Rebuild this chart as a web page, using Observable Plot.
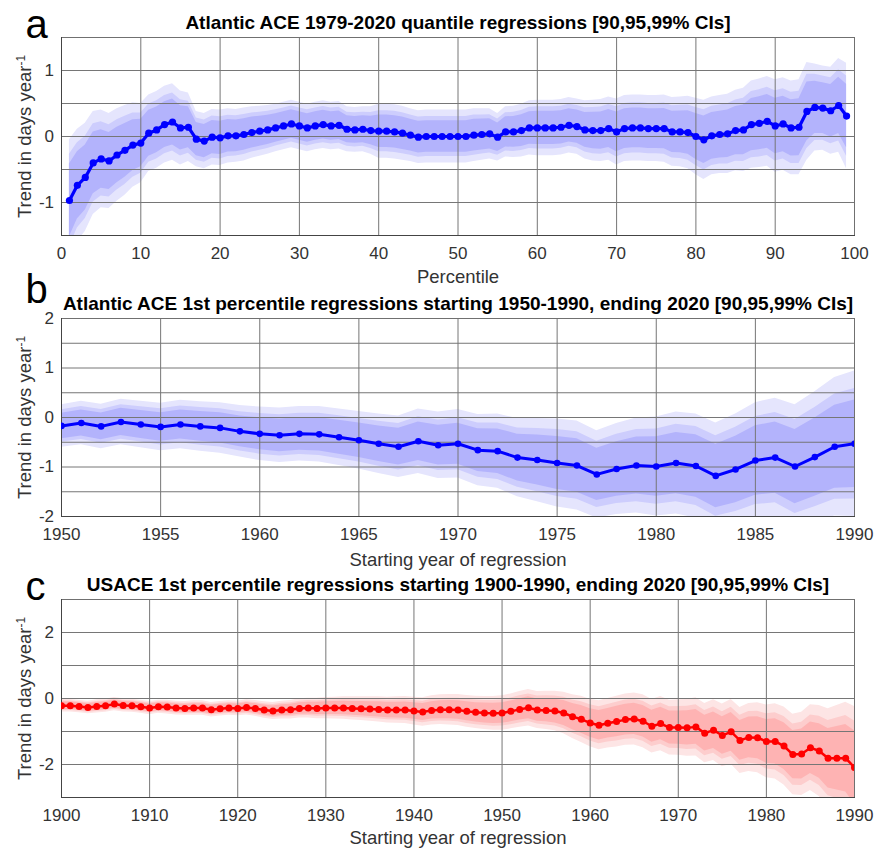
<!DOCTYPE html>
<html><head><meta charset="utf-8">
<script src="https://cdn.jsdelivr.net/npm/d3@7"></script>
<script src="https://cdn.jsdelivr.net/npm/@observablehq/plot@0.6"></script>
<style>
html,body{margin:0;padding:0;background:#fff;}
#wrap{position:relative;width:874px;height:848px;overflow:hidden;background:#fff;}
#wrap svg{position:absolute;left:0;}
</style></head><body><div id="wrap"></div>
<script>
// ---------- Panel a: Atlantic ACE quantile regressions ----------
const aPercentile = d3.range(1, 100);
const aTrend = [-0.97,-0.74,-0.62,-0.40,-0.34,-0.37,-0.28,-0.21,-0.13,-0.10,
 0.05,0.10,0.18,0.22,0.13,0.14,-0.04,-0.07,-0.01,-0.02,
 0.01,0.01,0.03,0.06,0.08,0.10,0.13,0.16,0.19,0.16,
 0.13,0.16,0.18,0.16,0.17,0.11,0.10,0.11,0.09,0.08,
 0.08,0.07,0.05,0.02,-0.01,0.00,0.00,0.00,0.00,0.00,
 0.00,0.02,0.03,0.04,-0.01,0.07,0.07,0.09,0.13,0.13,
 0.13,0.13,0.14,0.17,0.15,0.10,0.09,0.09,0.12,0.07,
 0.12,0.13,0.13,0.12,0.12,0.12,0.07,0.07,0.06,0.00,
 -0.05,0.01,0.03,0.04,0.09,0.10,0.18,0.20,0.23,0.16,
 0.19,0.13,0.14,0.38,0.44,0.43,0.39,0.47,0.31];
const aHalf99 = [0.92,0.85,0.82,0.78,0.74,0.72,0.70,0.68,0.64,0.60,
 0.58,0.58,0.58,0.58,0.56,0.52,0.42,0.42,0.42,0.42,
 0.41,0.40,0.40,0.39,0.38,0.37,0.36,0.36,0.36,0.36,
 0.36,0.36,0.36,0.36,0.36,0.34,0.34,0.34,0.36,0.41,
 0.41,0.41,0.41,0.40,0.40,0.40,0.40,0.40,0.40,0.40,
 0.40,0.40,0.39,0.38,0.36,0.38,0.39,0.40,0.41,0.42,
 0.42,0.42,0.42,0.42,0.42,0.44,0.46,0.47,0.48,0.50,
 0.50,0.50,0.50,0.50,0.50,0.51,0.52,0.53,0.55,0.58,
 0.60,0.59,0.59,0.60,0.61,0.63,0.66,0.67,0.68,0.70,
 0.70,0.71,0.72,0.74,0.66,0.64,0.66,0.71,0.80];
const aXTicks = [0,10,20,30,40,50,60,70,80,90,100];
const aYTicks = [-1,0,1];
const aYGrid = [-1,-0.5,0,0.5,1];

// ---------- Panel b: Atlantic ACE 1st percentile, start 1950-1990 ----------
const bYear = d3.range(1950, 1991);
const bTrend = [-0.17,-0.11,-0.18,-0.09,-0.14,-0.19,-0.14,-0.18,-0.21,-0.28,
 -0.33,-0.36,-0.33,-0.34,-0.40,-0.46,-0.53,-0.59,-0.48,-0.56,
 -0.53,-0.66,-0.68,-0.81,-0.86,-0.92,-0.97,-1.15,-1.04,-0.97,
 -0.99,-0.92,-0.98,-1.18,-1.05,-0.87,-0.81,-0.99,-0.80,-0.59,-0.53];
const bHalf99 = [0.43,0.44,0.45,0.46,0.47,0.48,0.49,0.50,0.51,0.52,
 0.54,0.55,0.55,0.56,0.57,0.58,0.60,0.62,0.65,0.67,
 0.69,0.72,0.75,0.79,0.84,0.89,0.90,0.88,0.92,0.96,
 1.00,1.03,1.05,1.07,1.12,1.17,1.20,1.25,1.32,1.40,1.47];
const bXTicks = [1950,1955,1960,1965,1970,1975,1980,1985,1990];
const bYTicks = [-2,-1,0,1,2];
const bYGrid = [-1.5,-1,-0.5,0,0.5,1,1.5];

// ---------- Panel c: USACE 1st percentile, start 1900-1990 ----------
const cYear = d3.range(1900, 1991);
const cTrend = [-0.22,-0.22,-0.24,-0.27,-0.24,-0.22,-0.17,-0.21,-0.22,-0.25,
 -0.29,-0.25,-0.26,-0.29,-0.30,-0.29,-0.29,-0.34,-0.31,-0.29,
 -0.30,-0.27,-0.30,-0.35,-0.38,-0.35,-0.34,-0.30,-0.29,-0.30,
 -0.29,-0.29,-0.29,-0.30,-0.31,-0.32,-0.33,-0.35,-0.35,-0.35,
 -0.38,-0.41,-0.36,-0.34,-0.34,-0.35,-0.39,-0.42,-0.44,-0.45,
 -0.44,-0.39,-0.33,-0.28,-0.35,-0.36,-0.38,-0.44,-0.55,-0.63,
 -0.74,-0.81,-0.75,-0.70,-0.64,-0.62,-0.69,-0.84,-0.76,-0.88,
 -0.88,-0.89,-0.86,-1.05,-0.96,-1.12,-1.01,-1.27,-1.18,-1.19,
 -1.30,-1.30,-1.44,-1.70,-1.68,-1.49,-1.59,-1.81,-1.81,-1.81,-2.09];
const cHalf99 = [0.19,0.19,0.19,0.19,0.20,0.20,0.20,0.20,0.20,0.20,
 0.20,0.20,0.21,0.21,0.21,0.22,0.22,0.22,0.22,0.22,
 0.22,0.23,0.24,0.25,0.26,0.27,0.28,0.29,0.30,0.31,
 0.32,0.33,0.34,0.35,0.36,0.37,0.38,0.39,0.40,0.41,
 0.42,0.43,0.44,0.45,0.46,0.47,0.48,0.49,0.50,0.51,
 0.52,0.53,0.54,0.55,0.56,0.58,0.60,0.63,0.66,0.70,
 0.72,0.74,0.75,0.77,0.78,0.79,0.80,0.81,0.82,0.83,
 0.84,0.86,0.88,0.90,0.92,0.95,0.98,1.00,1.03,1.06,
 1.10,1.14,1.18,1.22,1.26,1.30,1.38,1.50,1.60,1.70,1.85];
const cXTicks = [1900,1910,1920,1930,1940,1950,1960,1970,1980,1990];
const cYTicks = [-2,0,2];
const cYGrid = [-2,-1,0,1,2];

// CI widths relative to 99% (z-ratios for 95% and 90% intervals)
const ciRatio95 = 0.76;
const ciRatio90 = 0.60;

const blueColors = ["#e5e5fd", "#cdcdfd", "#b3b3fc", "#0000ff"];
const redColors  = ["#fde5e5", "#fdcdcd", "#feb3b3", "#ff0000"];

const FONT = "'Liberation Sans', Arial, Helvetica, sans-serif";
const GRID = "#767676";
const TXT = "#333333";

function panel(cfg) {
  const rows = cfg.x.map((x, i) => {
    const y = cfg.y[i], h = cfg.half[i];
    return {x, y,
      lo99: y - h, hi99: y + h,
      lo95: y - h * ciRatio95, hi95: y + h * ciRatio95,
      lo90: y - h * ciRatio90, hi90: y + h * ciRatio90};
  });
  const c = cfg.colors;
  const plot = Plot.plot({
    width: 874, height: cfg.height,
    marginTop: cfg.mt, marginBottom: cfg.mb, marginLeft: 61, marginRight: 20,
    style: {fontFamily: FONT, fontSize: "17px", background: "transparent", overflow: "visible"},
    x: {domain: cfg.xDomain, axis: null},
    y: {domain: cfg.yDomain, axis: null},
    marks: [
      Plot.areaY(rows, {x: "x", y1: "lo99", y2: "hi99", fill: c[0], clip: true}),
      Plot.areaY(rows, {x: "x", y1: "lo95", y2: "hi95", fill: c[1], clip: true}),
      Plot.areaY(rows, {x: "x", y1: "lo90", y2: "hi90", fill: c[2], clip: true}),
      Plot.gridX({ticks: cfg.xTicks, stroke: GRID, strokeOpacity: 1}),
      Plot.gridY({ticks: cfg.yGrid, stroke: GRID, strokeOpacity: 1}),
      Plot.frame({stroke: "#707070"}),
      Plot.frame({anchor: "left", stroke: "#444"}),
      Plot.frame({anchor: "bottom", stroke: "#444"}),
      Plot.axisX({ticks: cfg.xTicks, tickSize: 0, tickPadding: 11, tickFormat: d => String(d),
                  fontSize: 17, color: TXT, label: null}),
      Plot.axisY({ticks: cfg.yTicks, tickSize: 0, tickPadding: 7.5, tickFormat: d => String(d),
                  fontSize: 17, color: TXT, label: null}),
      Plot.lineY(rows, {x: "x", y: "y", stroke: c[3], strokeWidth: cfg.lineW, clip: true}),
      Plot.dot(rows, {x: "x", y: "y", r: cfg.r, fill: c[3], clip: true}),
      Plot.text([cfg.title], {frameAnchor: "top", dy: cfg.titleDy, lineAnchor: "bottom",
                  fontSize: 19, fontWeight: "bold", fill: "#000"}),
      Plot.text([cfg.letter], {frameAnchor: "top-left", dx: -36, dy: cfg.letterDy, textAnchor: "start",
                  lineAnchor: "bottom", fontSize: 40, fill: "#000"}),
      Plot.text([cfg.xLabel], {frameAnchor: "bottom", dy: cfg.xLabelDy, lineAnchor: "bottom",
                  fontSize: 18.5, fill: TXT}),
      Plot.text(["Trend in days year"], {frameAnchor: "left", dx: -31, rotate: -90, textAnchor: "middle",
                  lineAnchor: "bottom", fontSize: 18.5, fill: TXT})
    ]
  });
  d3.select(plot).selectAll("text")
    .filter(function () { return this.textContent === "Trend in days year"; })
    .each(function () {
      d3.select(this).append("tspan").attr("dy", "-0.5em").attr("font-size", "12px").text("-1");
    });
  plot.style.top = cfg.top + "px";
  return plot;
}

const wrap = document.getElementById("wrap");
wrap.appendChild(panel({
  top: 0, height: 283, mt: 37, mb: 48,
  x: aPercentile, y: aTrend, half: aHalf99, colors: blueColors,
  xDomain: [0, 100], yDomain: [-1.5, 1.5], xTicks: aXTicks, yTicks: aYTicks, yGrid: aYGrid,
  lineW: 3.2, r: 3.6,
  title: "Atlantic ACE 1979-2020 quantile regressions [90,95,99% CIs]", titleDy: -9,
  letter: "a", letterDy: 0, xLabel: "Percentile", xLabelDy: 47
}));
wrap.appendChild(panel({
  top: 283, height: 283, mt: 35, mb: 50,
  x: bYear, y: bTrend, half: bHalf99, colors: blueColors,
  xDomain: [1950, 1990], yDomain: [-2, 2], xTicks: bXTicks, yTicks: bYTicks, yGrid: bYGrid,
  lineW: 3, r: 3.3,
  title: "Atlantic ACE 1st percentile regressions starting 1950-1990, ending 2020 [90,95,99% CIs]", titleDy: -9,
  letter: "b", letterDy: -16, xLabel: "Starting year of regression", xLabelDy: 49
}));
wrap.appendChild(panel({
  top: 566, height: 282, mt: 33, mb: 51,
  x: cYear, y: cTrend, half: cHalf99, colors: redColors,
  xDomain: [1900, 1990], yDomain: [-3, 3], xTicks: cXTicks, yTicks: cYTicks, yGrid: cYGrid,
  lineW: 2.5, r: 3.5,
  title: "USACE 1st percentile regressions starting 1900-1990, ending 2020 [90,95,99% CIs]", titleDy: -8.5,
  letter: "c", letterDy: 0, xLabel: "Starting year of regression", xLabelDy: 46.5
}));
</script>
</body></html>
